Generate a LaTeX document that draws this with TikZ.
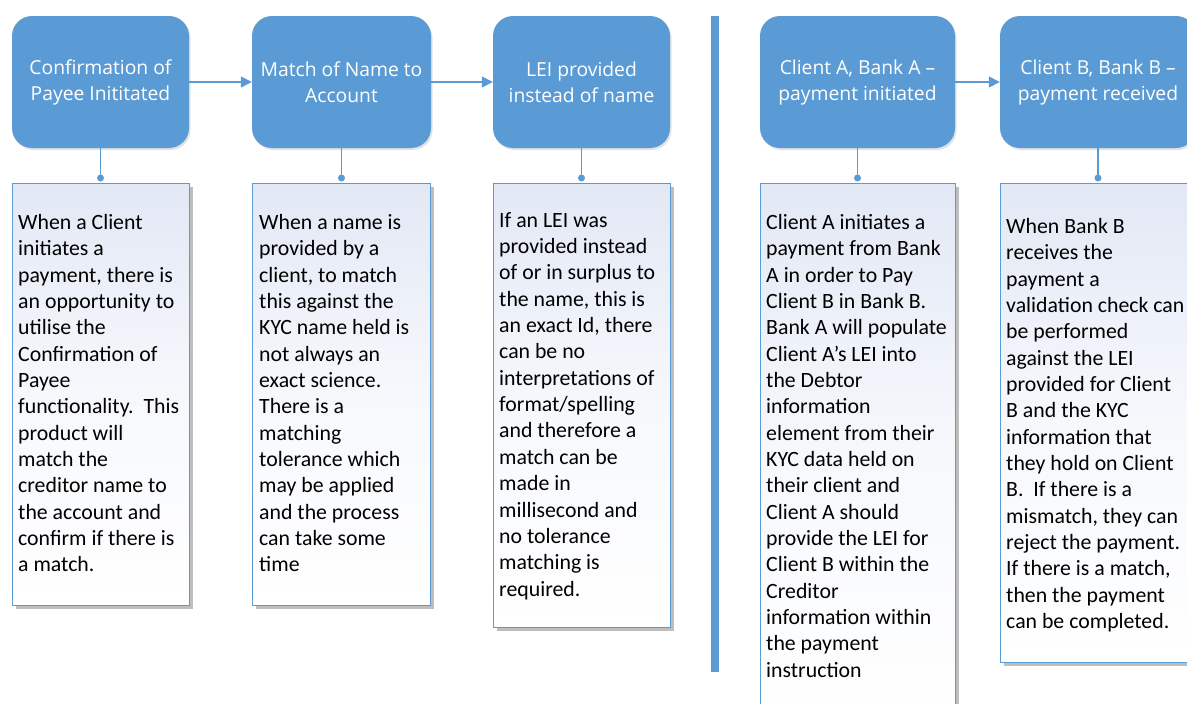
\documentclass[tikz,border=0pt]{standalone}
\usepackage{fontspec}
\setmainfont{Carlito}
\newfontfamily\headfont{Open Sans}
\usetikzlibrary{shapes,arrows.meta,shadows}

\definecolor{hdrblue}{RGB}{91,155,213}
\definecolor{boxtop}{RGB}{226,232,245}
\definecolor{shadegray}{RGB}{110,110,110}

\tikzset{
  head/.style={rounded corners=20pt, fill=hdrblue, text=white, align=center,
    inner sep=0pt, font=\headfont\fontsize{19.3}{26}\selectfont,
    drop shadow={shadow xshift=1.5pt, shadow yshift=-2pt, opacity=0.2, fill=shadegray}},
  card/.style={draw=hdrblue, line width=1pt, top color=boxtop, bottom color=white,
    middle color=boxtop!30!white, anchor=north west, inner sep=0pt,
    drop shadow={shadow xshift=3pt, shadow yshift=-3pt, opacity=0.45, fill=shadegray}},
  body/.style={anchor=north west, align=left, inner sep=0pt,
    font=\fontsize{21.8}{26.35}\selectfont},
  link/.style={draw=hdrblue, line width=1.5pt},
  flow/.style={link, -{Triangle[length=11pt,width=11pt]}},
  dot/.style={circle, fill=hdrblue, inner sep=0pt, minimum size=7pt}
}

\begin{document}
\begin{tikzpicture}[x=1pt,y=-1pt]
        \clip (0,0) rectangle (1187,704);

        \node [head, minimum width=177pt, minimum height=132pt] (CoP) at (100.5,82) {Confirmation of\\Payee Inititated};
        \node [head, minimum width=179pt, minimum height=132pt] (Match) at (341.5,82) {Match of Name to\\Account};
        \node [head, minimum width=177pt, minimum height=132pt] (LEI) at (581.5,82) {LEI provided\\instead of name};
        \node [head, minimum width=195pt, minimum height=132pt] (PayA) at (857.5,82) {Client A, Bank A –\\payment initiated};
        \node [head, minimum width=196pt, minimum height=132pt] (PayB) at (1098,82) {Client B, Bank B –\\payment received};

        \draw [flow] (CoP) -- (Match);
        \draw [flow] (Match) -- (LEI);
        \draw [flow] (PayA) -- (PayB);

        \fill [hdrblue] (711,16) rectangle (719,672);

        \node [card, minimum width=177pt, minimum height=422pt] (tCoP) at (12,183) {};
        \node [card, minimum width=178pt, minimum height=422pt] (tMatch) at (252,183) {};
        \node [card, minimum width=177pt, minimum height=444pt] (tLEI) at (493,183) {};
        \node [card, minimum width=195pt, minimum height=540pt] (tPayA) at (760,183) {};
        \node [card, minimum width=196pt, minimum height=479pt] (tPayB) at (1000,183) {};

        \node [dot] (dCoP) at (100.5,178) {};
        \node [dot] (dMatch) at (341.5,178) {};
        \node [dot] (dLEI) at (581.5,178) {};
        \node [dot] (dPayA) at (857.5,178) {};
        \node [dot] (dPayB) at (1098,178) {};

        \draw [link] (CoP) -- (dCoP.center);
        \draw [link] (Match) -- (dMatch.center);
        \draw [link] (LEI) -- (dLEI.center);
        \draw [link] (PayA) -- (dPayA.center);
        \draw [link] (PayB) -- (dPayB.center);

        \node [body] (xCoP) at (18,214) {When a Client\\initiates a\\payment, there is\\an opportunity to\\utilise the\\Confirmation of\\Payee\\functionality.\ \ This\\product will\\match the\\creditor name to\\the account and\\confirm if there is\\a match.};
        \node [body] (xMatch) at (259,214) {When a name is\\provided by a\\client, to match\\this against the\\KYC name held is\\not always an\\exact science.\\There is a\\matching\\tolerance which\\may be applied\\and the process\\can take some\\time};
        \node [body] (xLEI) at (499,212) {If an LEI was\\provided instead\\of or in surplus to\\the name, this is\\an exact Id, there\\can be no\\interpretations of\\format/spelling\\and therefore a\\match can be\\made in\\millisecond and\\no tolerance\\matching is\\required.};
        \node [body] (xPayA) at (766,214) {Client A initiates a\\payment from Bank\\A in order to Pay\\Client B in Bank B.\\Bank A will populate\\Client A’s LEI into\\the Debtor\\information\\element from their\\KYC data held on\\their client and\\Client A should\\provide the LEI for\\Client B within the\\Creditor\\information within\\the payment\\instruction};
        \node [body] (xPayB) at (1006,218) {When Bank B\\receives the\\payment a\\validation check can\\be performed\\against the LEI\\provided for Client\\B and the KYC\\information that\\they hold on Client\\B.\ \ If there is a\\mismatch, they can\\reject the payment.\\If there is a match,\\then the payment\\can be completed.};
      \end{tikzpicture}
\end{document}
